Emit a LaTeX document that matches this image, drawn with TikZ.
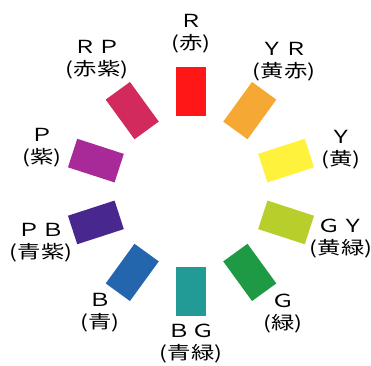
\documentclass[tikz,border=0pt]{standalone}
\usepackage{fontspec}
\usetikzlibrary{calc}
\newfontfamily\jpfont[FakeStretch=1.3]{Noto Sans CJK JP}
\definecolor{cR}{HTML}{FF1616}
\definecolor{cYR}{HTML}{F5A833}
\definecolor{cY}{HTML}{FFF23C}
\definecolor{cGY}{HTML}{B8CF2B}
\definecolor{cG}{HTML}{1E9944}
\definecolor{cBG}{HTML}{229A96}
\definecolor{cB}{HTML}{2466AE}
\definecolor{cPB}{HTML}{48288E}
\definecolor{cP}{HTML}{A72A98}
\definecolor{cRP}{HTML}{D22A5C}
\tikzset{
  chip/.style={rectangle, inner sep=0pt, minimum width=30pt, minimum height=49pt, draw=none},
  lab/.style={align=center, inner sep=0pt, font=\jpfont\fontsize{18pt}{22pt}\selectfont}
}
\begin{document}
\begin{tikzpicture}[x=1pt,y=1pt]
\useasboundingbox (0,0) rectangle (371,-365);
\coordinate (ctr) at (191,-191.5);
\foreach \nm/\ang/\col in {R/0/cR, YR/36/cYR, Y/72/cY, GY/108/cGY, G/144/cG, BG/180/cBG, B/216/cB, PB/252/cPB, P/288/cP, RP/324/cRP}{
  \node[chip, fill=\col, rotate=-\ang] (chip\nm) at ($(ctr)+({100*sin(\ang)},{100*cos(\ang)})$) {};
}
\node[lab] (lR)  at (191,-34)  {Ｒ\\(赤)};
\node[lab] (lYR) at (284,-62)  {ＹＲ\\(黄赤)};
\node[lab] (lY)  at (341,-150) {Ｙ\\(黄)};
\node[lab] (lGY) at (341,-239) {ＧＹ\\(黄緑)};
\node[lab] (lG)  at (283,-314) {Ｇ\\(緑)};
\node[lab] (lBG) at (191,-344) {ＢＧ\\(青緑)};
\node[lab] (lB)  at (100,-313) {Ｂ\\(青)};
\node[lab] (lPB) at (41,-243)  {ＰＢ\\(青紫)};
\node[lab] (lP)  at (42,-148)  {Ｐ\\(紫)};
\node[lab] (lRP) at (97,-60)   {ＲＰ\\(赤紫)};
\end{tikzpicture}
\end{document}
